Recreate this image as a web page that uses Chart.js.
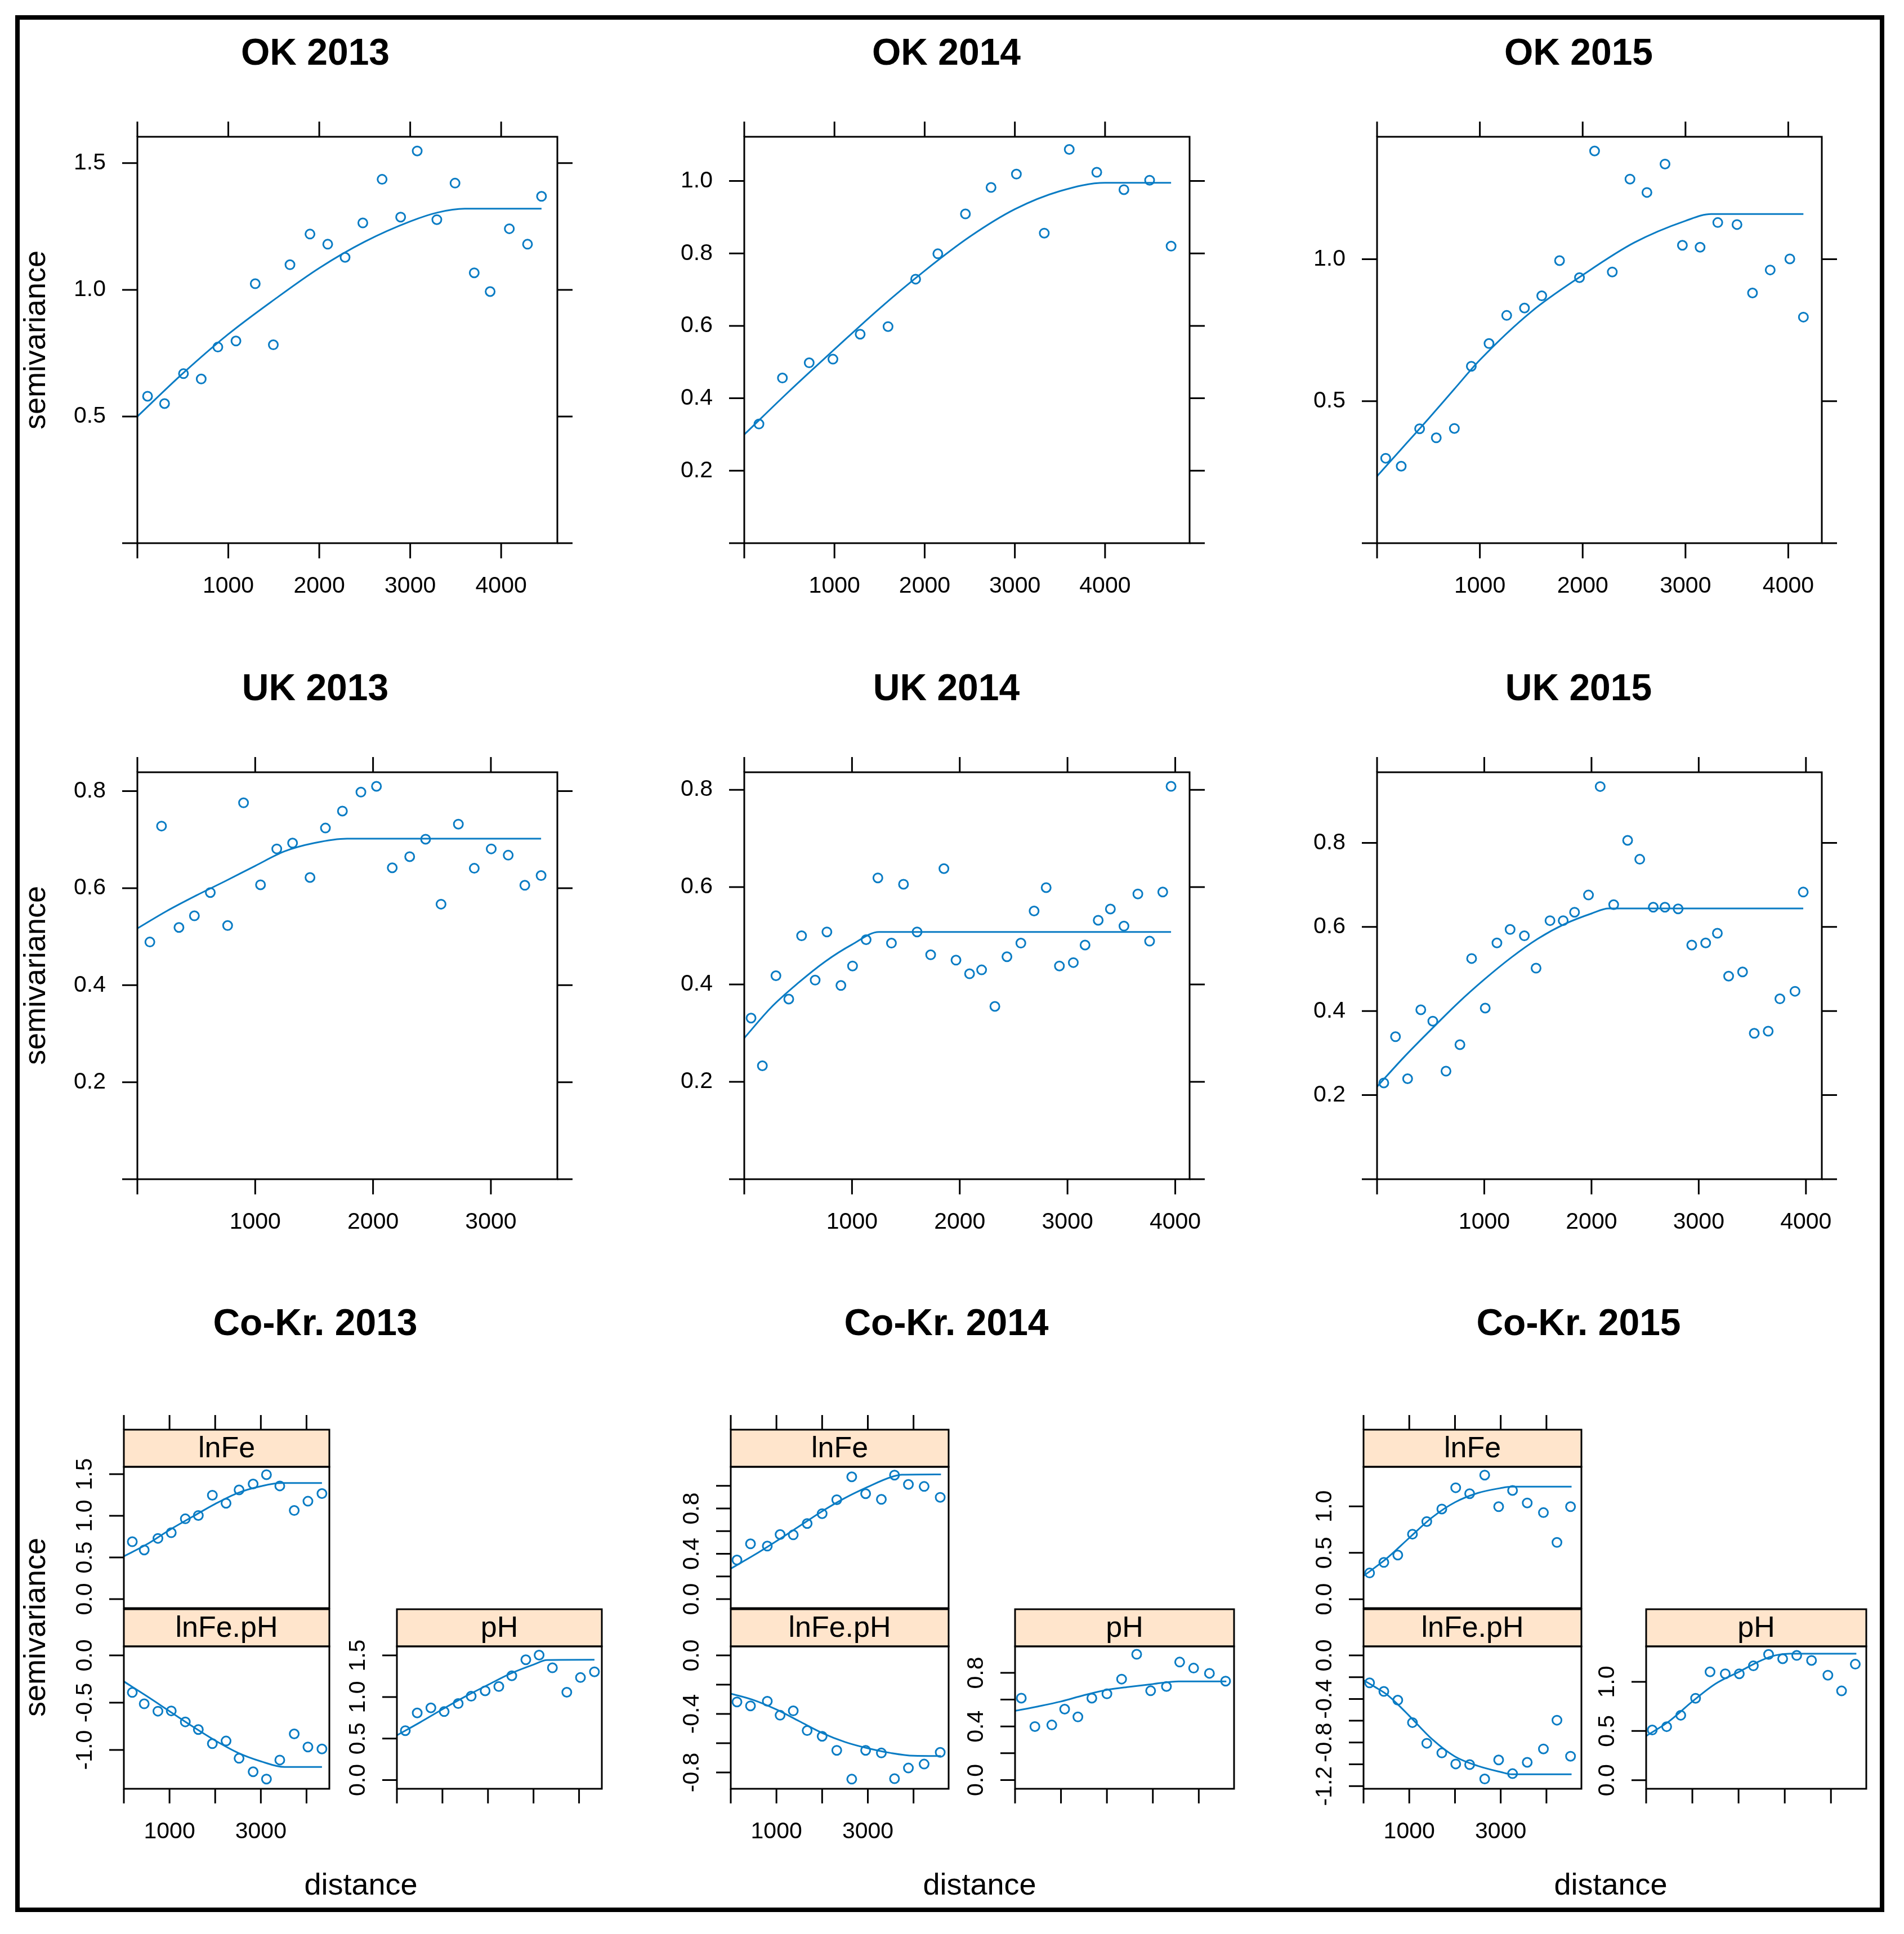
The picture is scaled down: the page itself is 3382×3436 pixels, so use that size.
<!DOCTYPE html>
<html>
<head>
<meta charset="utf-8">
<script src="https://cdn.jsdelivr.net/npm/chart.js@4.4.1/dist/chart.umd.min.js"></script>
<style>
  body { margin: 0; width: 3382px; height: 3436px; background: #fff; position: relative; overflow: hidden;
         font-family: "Liberation Sans", Arial, sans-serif; }
  #frame { position: absolute; left: 27px; top: 27px; width: 3320px; height: 3370px; border: 8px solid #000; box-sizing: border-box; }
  canvas { position: absolute; }
  .title { position: absolute; font-weight: bold; font-size: 66px; transform: translate(-50%, -50%); white-space: nowrap; }
  .lab { position: absolute; font-size: 54px; transform: translate(-50%, -50%); white-space: nowrap; }
  .rot { transform: translate(-50%, -50%) rotate(-90deg); }
</style>
</head>
<body>
<div id="frame"></div>
<script>
// ================= DATA =================
const xTicks4 = [0, 1000, 2000, 3000, 4000];
const xLabels4 = ['', '1000', '2000', '3000', '4000'];
const xTicks3 = [0, 1000, 2000, 3000];
const xLabels3 = ['', '1000', '2000', '3000'];
const ckXLabels = ['', '1000', '', '3000', ''];

// OK 2013
const ok13Lag = [112, 299, 507, 702, 885, 1084, 1296, 1495, 1678, 1898, 2093, 2284, 2479, 2691, 2895, 3077, 3293, 3493, 3704, 3879, 4090, 4290, 4444];
const ok13Gamma = [0.580, 0.551, 0.669, 0.648, 0.774, 0.798, 1.024, 0.783, 1.099, 1.220, 1.180, 1.128, 1.264, 1.436, 1.287, 1.548, 1.277, 1.421, 1.067, 0.993, 1.241, 1.180, 1.369];
const ok13FitLag = [0, 500, 1000, 1500, 2000, 2500, 3000, 3300, 3600, 4444];
const ok13Fit = [0.50, 0.67, 0.825, 0.96, 1.086, 1.19, 1.27, 1.305, 1.32, 1.32];
const ok13YTicks = [0, 0.5, 1.0, 1.5];
const ok13YLabels = ['', '0.5', '1.0', '1.5'];

// OK 2014
const ok14Lag = [163, 423, 720, 983, 1285, 1594, 1900, 2146, 2452, 2736, 3017, 3326, 3603, 3908, 4209, 4494, 4732];
const ok14Gamma = [0.329, 0.456, 0.498, 0.508, 0.577, 0.598, 0.729, 0.799, 0.909, 0.982, 1.019, 0.856, 1.087, 1.024, 0.976, 1.002, 0.820];
const ok14FitLag = [0, 500, 1000, 1500, 2000, 2500, 3000, 3500, 4000, 4732];
const ok14Fit = [0.30, 0.42, 0.535, 0.648, 0.752, 0.846, 0.922, 0.972, 0.995, 0.995];
const ok14YTicks = [0, 0.2, 0.4, 0.6, 0.8, 1.0];
const ok14YLabels = ['', '0.2', '0.4', '0.6', '0.8', '1.0'];

// OK 2015
const ok15Lag = [84, 235, 414, 576, 752, 917, 1089, 1261, 1434, 1602, 1775, 1969, 2116, 2288, 2460, 2625, 2801, 2970, 3142, 3314, 3501, 3652, 3824, 4015, 4147];
const ok15Gamma = [0.299, 0.271, 0.403, 0.371, 0.404, 0.623, 0.703, 0.802, 0.828, 0.871, 0.995, 0.935, 1.381, 0.955, 1.282, 1.235, 1.335, 1.049, 1.042, 1.129, 1.122, 0.881, 0.962, 1.001, 0.796];
const ok15FitLag = [0, 250, 500, 750, 1000, 1500, 2000, 2500, 3000, 3250, 4147];
const ok15Fit = [0.236, 0.337, 0.438, 0.542, 0.645, 0.815, 0.944, 1.058, 1.135, 1.159, 1.159];
const ok15YTicks = [0, 0.5, 1.0];
const ok15YLabels = ['', '0.5', '1.0'];

// UK 2013
const uk13Lag = [106, 205, 353, 484, 619, 766, 901, 1045, 1183, 1317, 1465, 1596, 1740, 1897, 2029, 2163, 2311, 2446, 2577, 2724, 2859, 3003, 3147, 3288, 3426];
const uk13Gamma = [0.489, 0.728, 0.519, 0.543, 0.591, 0.523, 0.776, 0.607, 0.681, 0.693, 0.622, 0.724, 0.759, 0.798, 0.810, 0.642, 0.665, 0.701, 0.567, 0.732, 0.641, 0.681, 0.668, 0.606, 0.626];
const uk13FitLag = [0, 250, 500, 750, 1000, 1250, 1500, 1780, 3426];
const uk13Fit = [0.517, 0.553, 0.585, 0.615, 0.646, 0.676, 0.693, 0.702, 0.702];

// UK 2014
const uk14Lag = [63, 168, 294, 413, 532, 658, 767, 897, 1005, 1131, 1240, 1366, 1478, 1604, 1730, 1853, 1965, 2091, 2203, 2326, 2438, 2567, 2690, 2802, 2925, 3054, 3163, 3285, 3398, 3524, 3653, 3762, 3884, 3961];
const uk14Gamma = [0.331, 0.233, 0.418, 0.370, 0.500, 0.409, 0.508, 0.398, 0.438, 0.492, 0.619, 0.485, 0.606, 0.508, 0.461, 0.638, 0.450, 0.422, 0.430, 0.355, 0.457, 0.485, 0.551, 0.599, 0.438, 0.445, 0.481, 0.532, 0.555, 0.520, 0.586, 0.489, 0.590, 0.807];
const uk14FitLag = [0, 250, 500, 750, 1000, 1250, 3961];
const uk14Fit = [0.290, 0.353, 0.403, 0.447, 0.482, 0.508, 0.508];

// UK 2015
const uk15Lag = [63, 172, 285, 408, 520, 643, 773, 882, 1009, 1118, 1241, 1374, 1483, 1613, 1736, 1842, 1972, 2081, 2207, 2337, 2450, 2576, 2685, 2808, 2935, 3065, 3174, 3279, 3409, 3518, 3648, 3757, 3898, 3975];
const uk15Gamma = [0.229, 0.339, 0.239, 0.403, 0.376, 0.257, 0.320, 0.525, 0.407, 0.562, 0.594, 0.579, 0.502, 0.615, 0.615, 0.635, 0.676, 0.934, 0.653, 0.806, 0.761, 0.647, 0.647, 0.643, 0.557, 0.562, 0.585, 0.483, 0.493, 0.347, 0.352, 0.429, 0.447, 0.683];
const uk15FitLag = [0, 250, 500, 750, 1000, 1250, 1500, 1750, 2000, 2160, 3975];
const uk15Fit = [0.220, 0.290, 0.355, 0.418, 0.475, 0.527, 0.572, 0.607, 0.632, 0.644, 0.644];

const ukYTicks = [0, 0.2, 0.4, 0.6, 0.8];
const ukYLabels = ['', '0.2', '0.4', '0.6', '0.8'];

// Co-Kr. 2013
const ck13Lag = [185, 446, 746, 1038, 1346, 1631, 1938, 2238, 2523, 2831, 3123, 3415, 3731, 4031, 4338];
const ck13Fe = [0.689, 0.590, 0.729, 0.797, 0.964, 1.004, 1.247, 1.151, 1.311, 1.382, 1.494, 1.359, 1.064, 1.175, 1.267];
const ck13FePh = [-0.392, -0.512, -0.590, -0.587, -0.703, -0.784, -0.933, -0.905, -1.088, -1.230, -1.307, -1.106, -0.830, -0.968, -0.989];
const ck13Ph = [0.595, 0.808, 0.869, 0.824, 0.921, 1.009, 1.074, 1.126, 1.255, 1.448, 1.504, 1.351, 1.057, 1.234, 1.303];
const ck13FeFitLag = [0, 500, 1000, 1500, 2000, 2500, 3000, 3450, 4338];
const ck13FeFit = [0.514, 0.657, 0.83, 0.988, 1.143, 1.275, 1.355, 1.394, 1.394];
const ck13FePhFitLag = [0, 500, 1000, 1500, 2000, 2500, 3000, 3520, 4338];
const ck13FePhFit = [-0.276, -0.43, -0.59, -0.75, -0.90, -1.03, -1.12, -1.18, -1.18];
const ck13PhFitLag = [0, 500, 1000, 1500, 2000, 2500, 3000, 3300, 4338];
const ck13PhFit = [0.539, 0.692, 0.852, 1.005, 1.146, 1.283, 1.39, 1.445, 1.448];
const ck13FeYTicks = [0, 0.5, 1.0, 1.5];
const ck13FeYLabels = ['0.0', '0.5', '1.0', '1.5'];
const ck13FePhYTicks = [-1.0, -0.5, 0.0];
const ck13FePhYLabels = ['-1.0', '-0.5', '0.0'];

// Co-Kr. 2014
const ck14Lag = [136, 432, 800, 1080, 1368, 1672, 2000, 2320, 2648, 2952, 3296, 3584, 3888, 4232, 4584];
const ck14Fe = [0.345, 0.488, 0.468, 0.570, 0.567, 0.667, 0.754, 0.877, 1.079, 0.930, 0.880, 1.094, 1.012, 0.994, 0.898];
const ck14FePh = [-0.318, -0.345, -0.313, -0.409, -0.379, -0.514, -0.553, -0.649, -0.846, -0.649, -0.667, -0.843, -0.770, -0.743, -0.663];
const ck14Ph = [0.611, 0.399, 0.411, 0.529, 0.471, 0.611, 0.643, 0.753, 0.938, 0.666, 0.698, 0.880, 0.835, 0.796, 0.738];
const ck14FeFitLag = [0, 500, 1000, 1500, 2000, 2500, 3000, 3500, 3750, 4600];
const ck14FeFit = [0.269, 0.386, 0.512, 0.643, 0.775, 0.892, 0.99, 1.075, 1.097, 1.10];
const ck14FePhFitLag = [0, 500, 1000, 1500, 2000, 2500, 3000, 3500, 4000, 4600];
const ck14FePhFit = [-0.261, -0.305, -0.370, -0.450, -0.530, -0.592, -0.635, -0.667, -0.686, -0.688];
const ck14PhFitLag = [0, 500, 1000, 1500, 2000, 2500, 3000, 3560, 4600];
const ck14PhFit = [0.516, 0.549, 0.586, 0.633, 0.673, 0.696, 0.716, 0.736, 0.736];
const ck14FeYTicks = [0, 0.2, 0.4, 0.6, 0.8, 1.0];
const ck14FeYLabels = ['0.0', '', '0.4', '', '0.8', ''];
const ck14FePhYTicks = [-0.8, -0.6, -0.4, -0.2, 0.0];
const ck14FePhYLabels = ['-0.8', '', '-0.4', '', '0.0'];
const ck14PhYTicks = [0, 0.2, 0.4, 0.6, 0.8];
const ck14PhYLabels = ['0.0', '', '0.4', '', '0.8'];

// Co-Kr. 2015
const ck15Lag = [132, 444, 749, 1070, 1383, 1712, 2016, 2321, 2650, 2955, 3259, 3580, 3934, 4230, 4527];
const ck15Fe = [0.282, 0.396, 0.475, 0.700, 0.836, 0.971, 1.200, 1.136, 1.336, 0.996, 1.171, 1.036, 0.932, 0.611, 0.996];
const ck15FePh = [-0.252, -0.331, -0.411, -0.617, -0.807, -0.896, -0.997, -1.003, -1.135, -0.960, -1.086, -0.982, -0.859, -0.595, -0.926];
const ck15Ph = [0.510, 0.544, 0.660, 0.833, 1.102, 1.082, 1.082, 1.163, 1.279, 1.235, 1.269, 1.218, 1.068, 0.908, 1.180];
const ck15FeFitLag = [0, 500, 1000, 1500, 2000, 2500, 3000, 3240, 4550];
const ck15FeFit = [0.250, 0.436, 0.66, 0.88, 1.043, 1.143, 1.196, 1.211, 1.211];
const ck15FePhFitLag = [0, 250, 500, 750, 1000, 1500, 2000, 2500, 3000, 3240, 4550];
const ck15FePhFit = [-0.227, -0.29, -0.356, -0.45, -0.555, -0.77, -0.929, -1.015, -1.071, -1.092, -1.092];
const ck15PhFitLag = [0, 500, 1000, 1500, 2000, 2500, 2800, 3100, 4550];
const ck15PhFit = [0.449, 0.60, 0.80, 0.98, 1.10, 1.22, 1.27, 1.286, 1.286];
const ck15FeYTicks = [0, 0.5, 1.0];
const ck15FeYLabels = ['0.0', '0.5', '1.0'];
const ck15FePhYTicks = [-1.2, -1.0, -0.8, -0.6, -0.4, -0.2, 0.0];
const ck15FePhYLabels = ['-1.2', '', '-0.8', '', '-0.4', '', '0.0'];

// ================= LAYOUT =================
const BLUE = '#0a7cc4';
const FONT = '"Liberation Sans", Arial, sans-serif';
const ROWS = [[243, 965], [1372, 2095]];
const COLS = [[244, 990], [1322, 2113], [2446, 3236]];
const CK_COLS = [
  { fe: [220, 586], ph: [705, 1070] },
  { fe: [1298, 1686], ph: [1803, 2193] },
  { fe: [2422, 2810], ph: [2924, 3316] }
];
const CK_TOP = [2606, 2858];
const CK_BOTTOM = [2925, 3178];
const STRIP_H = 66;

// draws the lattice-style box, strips, ticks and tick labels from the chart scales
const latticeFrame = {
  id: 'latticeFrame',
  afterDatasetsDraw(chart, args, o) {
    const { ctx, chartArea: a } = chart;
    const sx = chart.scales.x, sy = chart.scales.y;
    const t = o.tick;
    ctx.save();
    ctx.strokeStyle = '#000';
    ctx.lineWidth = 3;
    let top = a.top;
    if (o.strip) {
      top = a.top - STRIP_H;
      ctx.fillStyle = '#ffe5cc';
      ctx.fillRect(a.left, top, a.width, STRIP_H);
      ctx.strokeRect(a.left, top, a.width, STRIP_H);
      ctx.fillStyle = '#000';
      ctx.font = '52px ' + FONT;
      ctx.textAlign = 'center';
      ctx.textBaseline = 'middle';
      ctx.fillText(o.strip, (a.left + a.right) / 2, top + STRIP_H / 2 + 2);
    }
    ctx.strokeRect(a.left, a.top, a.width, a.height);

    ctx.beginPath();
    o.xTicks.forEach(v => {
      const px = sx.getPixelForValue(v);
      if (o.sides.includes('top')) { ctx.moveTo(px, top); ctx.lineTo(px, top - t); }
      if (o.sides.includes('bottom')) { ctx.moveTo(px, a.bottom); ctx.lineTo(px, a.bottom + t); }
    });
    o.yTicks.forEach(v => {
      const py = sy.getPixelForValue(v);
      if (o.sides.includes('left')) { ctx.moveTo(a.left, py); ctx.lineTo(a.left - t, py); }
      if (o.sides.includes('right')) { ctx.moveTo(a.right, py); ctx.lineTo(a.right + t, py); }
    });
    ctx.stroke();

    ctx.fillStyle = '#000';
    ctx.font = '41px ' + FONT;
    if (o.xLabels) {
      ctx.textAlign = 'center';
      ctx.textBaseline = 'middle';
      o.xTicks.forEach((v, i) => {
        if (o.xLabels[i]) ctx.fillText(o.xLabels[i], sx.getPixelForValue(v), a.bottom + 77);
      });
    }
    if (o.yLabels) {
      o.yTicks.forEach((v, i) => {
        const lab = o.yLabels[i];
        if (!lab) return;
        const py = sy.getPixelForValue(v);
        if (o.rotY) {
          ctx.save();
          ctx.translate(a.left - 68, py);
          ctx.rotate(-Math.PI / 2);
          ctx.textAlign = 'center';
          ctx.textBaseline = 'middle';
          ctx.fillText(lab, 0, 0);
          ctx.restore();
        } else {
          ctx.textAlign = 'right';
          ctx.textBaseline = 'middle';
          ctx.fillText(lab, a.left - t - 29, py);
        }
      });
    }
    ctx.restore();
  }
};

function pts(xs, ys) {
  return xs.map((x, i) => ({ x, y: ys[i] }));
}

function makeChart(s) {
  const p = s.pad;
  const w = s.bx[1] - s.bx[0] + p.l + p.r;
  const h = s.by[1] - s.by[0] + p.t + p.b;
  const cv = document.createElement('canvas');
  cv.width = w; cv.height = h;
  cv.style.left = (s.bx[0] - p.l) + 'px';
  cv.style.top = (s.by[0] - p.t) + 'px';
  cv.style.width = w + 'px';
  cv.style.height = h + 'px';
  document.body.appendChild(cv);

  new Chart(cv, {
    type: 'scatter',
    data: {
      datasets: [
        {
          data: pts(s.lag, s.gamma),
          pointStyle: 'circle', pointRadius: 8, pointBorderWidth: 3,
          pointBorderColor: BLUE, pointBackgroundColor: 'rgba(0,0,0,0)',
          borderColor: BLUE, backgroundColor: 'rgba(0,0,0,0)'
        },
        {
          type: 'line',
          data: pts(s.fitLag, s.fit),
          borderColor: BLUE, borderWidth: 3, pointRadius: 0, fill: false,
          cubicInterpolationMode: 'monotone'
        }
      ]
    },
    options: {
      responsive: false, animation: false, devicePixelRatio: 1, events: [],
      layout: { padding: { left: p.l, right: p.r, top: p.t, bottom: p.b } },
      scales: {
        x: { type: 'linear', min: s.xMin, max: s.xMax, display: false },
        y: { type: 'linear', min: s.yMin, max: s.yMax, display: false }
      },
      plugins: {
        legend: { display: false },
        tooltip: { enabled: false },
        latticeFrame: s.frame
      }
    },
    plugins: [latticeFrame]
  });
}

function addText(cls, text, x, y) {
  const d = document.createElement('div');
  d.className = cls;
  d.textContent = text;
  d.style.left = x + 'px';
  d.style.top = y + 'px';
  document.body.appendChild(d);
}

// ================= TOP TWO ROWS =================
const topPanels = [
  { r: 0, c: 0, lag: ok13Lag, gamma: ok13Gamma, fitLag: ok13FitLag, fit: ok13Fit, xMax: 4618, yMax: 1.604, xT: xTicks4, xL: xLabels4, yT: ok13YTicks, yL: ok13YLabels },
  { r: 0, c: 1, lag: ok14Lag, gamma: ok14Gamma, fitLag: ok14FitLag, fit: ok14Fit, xMax: 4937, yMax: 1.122, xT: xTicks4, xL: xLabels4, yT: ok14YTicks, yL: ok14YLabels },
  { r: 0, c: 2, lag: ok15Lag, gamma: ok15Gamma, fitLag: ok15FitLag, fit: ok15Fit, xMax: 4326, yMax: 1.431, xT: xTicks4, xL: xLabels4, yT: ok15YTicks, yL: ok15YLabels },
  { r: 1, c: 0, lag: uk13Lag, gamma: uk13Gamma, fitLag: uk13FitLag, fit: uk13Fit, xMax: 3564, yMax: 0.839, xT: xTicks3, xL: xLabels3, yT: ukYTicks, yL: ukYLabels },
  { r: 1, c: 1, lag: uk14Lag, gamma: uk14Gamma, fitLag: uk14FitLag, fit: uk14Fit, xMax: 4133, yMax: 0.836, xT: xTicks4, xL: xLabels4, yT: ukYTicks, yL: ukYLabels },
  { r: 1, c: 2, lag: uk15Lag, gamma: uk15Gamma, fitLag: uk15FitLag, fit: uk15Fit, xMax: 4148, yMax: 0.968, xT: xTicks4, xL: xLabels4, yT: ukYTicks, yL: ukYLabels }
];

topPanels.forEach(s => {
  makeChart({
    bx: COLS[s.c], by: ROWS[s.r], pad: { l: 140, r: 45, t: 45, b: 120 },
    lag: s.lag, gamma: s.gamma, fitLag: s.fitLag, fit: s.fit,
    xMin: 0, xMax: s.xMax, yMin: 0, yMax: s.yMax,
    frame: { xTicks: s.xT, xLabels: s.xL, yTicks: s.yT, yLabels: s.yL, tick: 27,
             sides: ['top', 'bottom', 'left', 'right'], rotY: false }
  });
});

// ================= CO-KRIGING ROW =================
const ckPanels = [
  { c: 0, xMax: 4500, lag: ck13Lag,
    fe: { g: ck13Fe, fl: ck13FeFitLag, f: ck13FeFit, yMin: -0.108, yMax: 1.588, yT: ck13FeYTicks, yL: ck13FeYLabels },
    feph: { g: ck13FePh, fl: ck13FePhFitLag, f: ck13FePhFit, yMin: -1.41, yMax: 0.095, yT: ck13FePhYTicks, yL: ck13FePhYLabels },
    ph: { g: ck13Ph, fl: ck13PhFitLag, f: ck13PhFit, yMin: -0.105, yMax: 1.609, yT: ck13FeYTicks, yL: ck13FeYLabels } },
  { c: 1, xMax: 4768, lag: ck14Lag,
    fe: { g: ck14Fe, fl: ck14FeFitLag, f: ck14FeFit, yMin: -0.079, yMax: 1.167, yT: ck14FeYTicks, yL: ck14FeYLabels },
    feph: { g: ck14FePh, fl: ck14FePhFitLag, f: ck14FePhFit, yMin: -0.912, yMax: 0.062, yT: ck14FePhYTicks, yL: ck14FePhYLabels },
    ph: { g: ck14Ph, fl: ck14PhFitLag, f: ck14PhFit, yMin: -0.065, yMax: 0.997, yT: ck14PhYTicks, yL: ck14PhYLabels } },
  { c: 2, xMax: 4765, lag: ck15Lag,
    fe: { g: ck15Fe, fl: ck15FeFitLag, f: ck15FeFit, yMin: -0.096, yMax: 1.425, yT: ck15FeYTicks, yL: ck15FeYLabels },
    feph: { g: ck15FePh, fl: ck15FePhFitLag, f: ck15FePhFit, yMin: -1.225, yMax: 0.083, yT: ck15FePhYTicks, yL: ck15FePhYLabels },
    ph: { g: ck15Ph, fl: ck15PhFitLag, f: ck15PhFit, yMin: -0.088, yMax: 1.361, yT: ck15FeYTicks, yL: ck15FeYLabels } }
];

ckPanels.forEach(s => {
  const g = CK_COLS[s.c];
  const sub = [
    { d: s.fe, bx: g.fe, by: CK_TOP, strip: 'lnFe', sides: ['top', 'left'], xL: null, pad: { l: 110, r: 10, t: 105, b: 10 } },
    { d: s.feph, bx: g.fe, by: CK_BOTTOM, strip: 'lnFe.pH', sides: ['bottom', 'left'], xL: ckXLabels, pad: { l: 110, r: 10, t: 78, b: 120 } },
    { d: s.ph, bx: g.ph, by: CK_BOTTOM, strip: 'pH', sides: ['bottom', 'left'], xL: null, pad: { l: 110, r: 10, t: 78, b: 120 } }
  ];
  sub.forEach(p => {
    makeChart({
      bx: p.bx, by: p.by, pad: p.pad,
      lag: s.lag, gamma: p.d.g, fitLag: p.d.fl, fit: p.d.f,
      xMin: 0, xMax: s.xMax, yMin: p.d.yMin, yMax: p.d.yMax,
      frame: { xTicks: xTicks4, xLabels: p.xL, yTicks: p.d.yT, yLabels: p.d.yL, tick: 26,
               sides: p.sides, rotY: true, strip: p.strip }
    });
  });
});

// ================= TITLES AND AXIS NAMES =================
const titles = [['OK 2013', 'OK 2014', 'OK 2015'], ['UK 2013', 'UK 2014', 'UK 2015'], ['Co-Kr. 2013', 'Co-Kr. 2014', 'Co-Kr. 2015']];
const titleX = [560, 1681, 2804];
const titleY = [92, 1221, 2349];
titles.forEach((row, r) => row.forEach((t, c) => addText('title', t, titleX[c], titleY[r])));

[604, 1733, 2891].forEach(y => addText('lab rot', 'semivariance', 61, y));
[641, 1740, 2861].forEach(x => addText('lab', 'distance', x, 3347));
</script>
</body>
</html>
